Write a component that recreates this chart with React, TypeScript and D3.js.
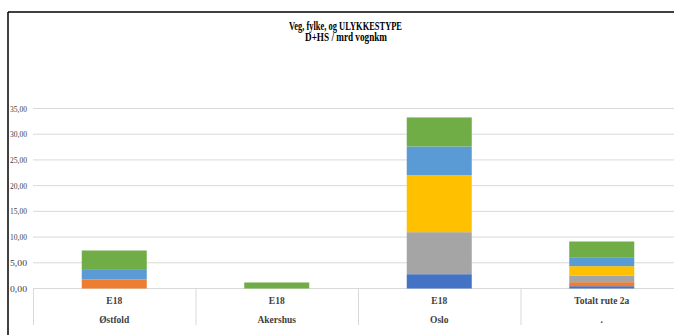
import React from "react";
import * as d3 from "d3";

const categories = ["E18|Østfold", "E18|Akershus", "E18|Oslo", "Totalt rute 2a|."];
const roads = ["E18", "E18", "E18", "Totalt rute 2a"];
const counties = ["Østfold", "Akershus", "Oslo", "."];
const seriesNames = ["S1", "S2", "S3", "S4", "S5", "S6"];
const seriesColors = ["#4472C4", "#ED7D31", "#A5A5A5", "#FFC000", "#5B9BD5", "#70AD47"];
const s1 = [0, 0, 2.78, 0.45];
const s2 = [1.75, 0, 0, 0.78];
const s3 = [0, 0, 8.17, 1.3];
const s4 = [0, 0, 11.09, 1.81];
const s5 = [1.87, 0, 5.58, 1.63];
const s6 = [3.77, 1.17, 5.64, 3.17];
const yTicks = [0, 5, 10, 15, 20, 25, 30, 35];

const W = 674;
const H = 335;
const font = "'Liberation Serif', serif";

export default function App() {
  const x = d3.scaleBand<string>().domain(categories).range([33, 683]).paddingInner(0).paddingOuter(0);
  const y = d3.scaleLinear().domain([0, 35]).range([288.5, 108.5]);
  const table = categories.map((c, i) => {
    const row: any = { cat: c };
    [s1, s2, s3, s4, s5, s6].forEach((s, k) => (row[seriesNames[k]] = s[i]));
    return row;
  });
  const stacked = d3.stack<any>().keys(seriesNames)(table);
  const bw = x.bandwidth() * 0.4;
  const fmt = (v: number) => v.toFixed(2).replace(".", ",");

  return (
    <div style={{ position: "fixed", left: 0, top: 0 }}>
      <svg width={W} height={H} style={{ display: "block", background: "#fff" }}>
        <rect x={0} y={0} width={W} height={H} fill="#fff" />
        {/* frame */}
        <line x1={8} x2={674} y1={12} y2={12} stroke="#000" strokeWidth={1.5} />
        <line x1={8} x2={8} y1={12} y2={335} stroke="#000" strokeWidth={1.5} />
        {/* title */}
        <text x={345.5} y={29.5} textAnchor="middle" fontFamily={font} fontWeight="bold" fontSize={11.5} textLength={113} lengthAdjust="spacingAndGlyphs" fill="#000">
          Veg, fylke, og ULYKKESTYPE
        </text>
        <text x={346} y={40.5} textAnchor="middle" fontFamily={font} fontWeight="bold" fontSize={11.5} textLength={82} lengthAdjust="spacingAndGlyphs" fill="#000">
          D+HS / mrd vognkm
        </text>
        {/* gridlines */}
        {yTicks.map((t) => (
          <line key={t} x1={33} x2={683} y1={y(t)} y2={y(t)} stroke="#d9d9d9" strokeWidth={1} />
        ))}
        {/* y labels */}
        {yTicks.map((t) => (
          <text key={"l" + t} x={27} y={y(t) + 3} textAnchor="end" fontFamily={font} fontSize={9} fill="#404040" textLength={17} lengthAdjust="spacingAndGlyphs">
            {fmt(t)}
          </text>
        ))}
        {/* bars */}
        {stacked.map((layer, k) => (
          <g key={layer.key} fill={seriesColors[k]}>
            {layer.map((d, i) =>
              d[1] - d[0] > 0 ? (
                <rect
                  key={i}
                  x={(x(categories[i]) as number) + (x.bandwidth() - bw) / 2}
                  y={y(d[1])}
                  width={bw}
                  height={y(d[0]) - y(d[1])}
                />
              ) : null
            )}
          </g>
        ))}
        {/* category separators */}
        {categories.map((c) => (
          <line key={"s" + c} x1={(x(c) as number) + 0.5} x2={(x(c) as number) + 0.5} y1={288.5} y2={325} stroke="#d9d9d9" strokeWidth={1} />
        ))}
        {/* category labels */}
        {categories.map((c, i) => {
          const cx = (x(c) as number) + x.bandwidth() / 2;
          return (
            <g key={"c" + c} fontFamily={font} fontSize={9.5} fill="#404040" textAnchor="middle" fontWeight="bold">
              <text x={cx} y={304}>{roads[i]}</text>
              <text x={cx} y={323}>{counties[i]}</text>
            </g>
          );
        })}
      </svg>
    </div>
  );
}
